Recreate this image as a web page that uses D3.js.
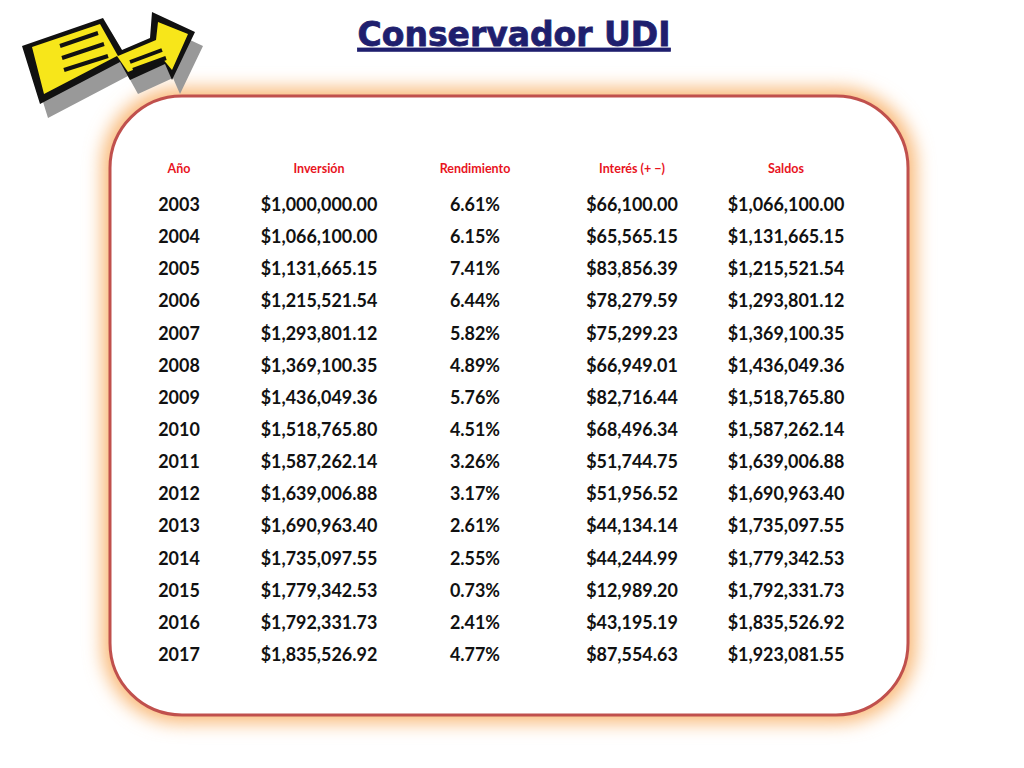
<!DOCTYPE html>
<html><head><meta charset="utf-8">
<script src="https://cdn.jsdelivr.net/npm/d3@7"></script>
<style>body{margin:0;background:#fff}</style>
</head><body>
<script>
const headers = ["Año", "Inversión", "Rendimiento", "Interés (+ −)", "Saldos"];
const years = [2003,2004,2005,2006,2007,2008,2009,2010,2011,2012,2013,2014,2015,2016,2017];
const inversion = ["$1,000,000.00","$1,066,100.00","$1,131,665.15","$1,215,521.54","$1,293,801.12","$1,369,100.35","$1,436,049.36","$1,518,765.80","$1,587,262.14","$1,639,006.88","$1,690,963.40","$1,735,097.55","$1,779,342.53","$1,792,331.73","$1,835,526.92"];
const rendimiento = ["6.61%","6.15%","7.41%","6.44%","5.82%","4.89%","5.76%","4.51%","3.26%","3.17%","2.61%","2.55%","0.73%","2.41%","4.77%"];
const interes = ["$66,100.00","$65,565.15","$83,856.39","$78,279.59","$75,299.23","$66,949.01","$82,716.44","$68,496.34","$51,744.75","$51,956.52","$44,134.14","$44,244.99","$12,989.20","$43,195.19","$87,554.63"];
const saldos = ["$1,066,100.00","$1,131,665.15","$1,215,521.54","$1,293,801.12","$1,369,100.35","$1,436,049.36","$1,518,765.80","$1,587,262.14","$1,639,006.88","$1,690,963.40","$1,735,097.55","$1,779,342.53","$1,792,331.73","$1,835,526.92","$1,923,081.55"];

const svg = d3.select("body").append("svg").attr("width", 1024).attr("height", 768);
const defs = svg.append("defs");
const f = defs.append("filter").attr("id", "glow").attr("x", "-10%").attr("y", "-10%").attr("width", "120%").attr("height", "120%");
f.append("feGaussianBlur").attr("stdDeviation", 9);

// panel
svg.append("rect").attr("x", 102).attr("y", 88).attr("width", 814).attr("height", 635).attr("rx", 78)
  .attr("fill", "#f9b978").attr("filter", "url(#glow)");
svg.append("rect").attr("x", 110).attr("y", 96).attr("width", 798).attr("height", 619).attr("rx", 72)
  .attr("fill", "#fff").attr("stroke", "#c0504d").attr("stroke-width", 3);

// title
svg.append("text").attr("x", 514).attr("y", 46).attr("text-anchor", "middle")
  .attr("font-family", "DejaVu Sans").attr("font-weight", "bold").attr("font-size", 33)
  .attr("fill", "#1f1f6e").attr("stroke", "#1f1f6e").attr("stroke-width", 0.8)
  .attr("text-decoration", "underline").text("Conservador UDI");

// arrow icon
const arrow = [[22,46],[103,18],[122,50],[150,38],[152,12],[195,32],[172,80],[165,64],[130,80],[120,62],[40,104]];
const g = svg.append("g");
g.append("polygon").attr("points", arrow.map(p => [p[0]+8, p[1]+14]).join(" ")).attr("fill", "#999");
g.append("polygon").attr("points", arrow.join(" ")).attr("fill", "#111");
const inner = [[32,47],[100,24],[118,56],[156,40],[158,22],[188,34],[172,70],[162,58],[128,72],[117,56],[44,94]];
g.append("polygon").attr("points", inner.join(" ")).attr("fill", "#f7e61a");
[[60,46,98,33],[62,58,104,44],[64,70,108,56],[130,62,162,50],[133,70,166,58]].forEach(l =>
  g.append("line").attr("x1", l[0]).attr("y1", l[1]).attr("x2", l[2]).attr("y2", l[3]).attr("stroke", "#111").attr("stroke-width", 4));

// table
const x = d3.scaleOrdinal().domain(d3.range(5)).range([179, 319, 475, 632, 786]);
const y = d3.scaleLinear().domain([0, years.length - 1]).range([204, 654]);
svg.selectAll(".h").data(headers).join("text")
  .attr("x", (d, i) => x(i)).attr("y", 173).attr("text-anchor", "middle")
  .attr("font-family", "Lato").attr("font-weight", "bold").attr("font-size", 12.5).attr("fill", "#e8141e").text(d => d);
const rows = years.map((yr, i) => [String(yr), inversion[i], rendimiento[i], interes[i], saldos[i]]);
rows.forEach((r, ri) => {
  svg.selectAll(null).data(r).join("text")
    .attr("x", (d, i) => x(i)).attr("y", y(ri) + 7).attr("text-anchor", "middle")
    .attr("font-family", "Lato").attr("font-weight", "bold").attr("font-size", 19.5).attr("fill", "#111")
    .attr("transform", (d, i) => `translate(${x(i)},0) scale(0.92,1) translate(${-x(i)},0)`)
    .text(d => d);
});
</script>
</body></html>
